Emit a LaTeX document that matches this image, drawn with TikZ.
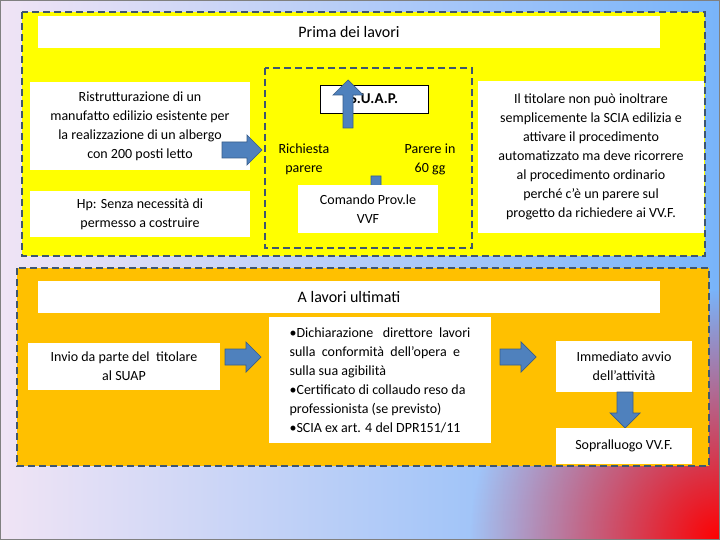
\documentclass[tikz,border=0pt]{standalone}
\usepackage{fontspec}
\setmainfont{Carlito}
\usetikzlibrary{fadings}
\tikzfading[name=myfade,inner color=transparent!0,outer color=transparent!100]
\definecolor{dashc}{RGB}{62,86,112}
\definecolor{ylw}{RGB}{255,255,0}
\definecolor{org}{RGB}{255,192,0}
\definecolor{arr}{RGB}{79,129,189}
\definecolor{arrd}{RGB}{56,93,138}
\tikzset{
  x=1pt,y=-1pt,
  wbox/.style={fill=white,inner sep=3pt,align=center,font=\fontsize{14}{19}\selectfont},
  dbox/.style={draw=dashc,line width=2.5pt,dash pattern=on 7pt off 4pt},
  blockarrow/.style={fill=arr,draw=arrd,line width=0.7pt}
}
% block arrow pointing along +x of local frame, length #4
\newcommand{\blkarrow}[5]{%
  \draw[blockarrow,shift={(#1,#2)},rotate=#3] (0,-#5) -- (#4-15,-#5) -- (#4-15,-15) -- (#4,0) -- (#4-15,15) -- (#4-15,#5) -- (0,#5) -- cycle;}
\begin{document}
\begin{tikzpicture}
\useasboundingbox (0,0) rectangle (720,540);
\shade[left color={rgb,255:red,240;green,228;blue,245},right color={rgb,255:red,120;green,180;blue,250}] (0,0) rectangle (720,540);
\begin{scope}
\clip (0,0) rectangle (720,540);
\fill[red,path fading=myfade] (720,540) circle (250);
\end{scope}
\draw[gray,line width=1pt] (0.5,0.5) rectangle (719.5,539.5);
% top section
\draw[dbox,fill=ylw] (22,12) rectangle (705,256);
\node[wbox,minimum width=622,minimum height=32,font=\fontsize{16}{19}\selectfont] (t1) at (349,32) {Prima dei lavori};
\node[wbox,minimum width=220,minimum height=88] (r1) at (140,126) {Ristrutturazione di un\\manufatto edilizio esistente per\\la realizzazione di un albergo\\con 200 posti letto};
\node[wbox,minimum width=220,minimum height=45] (hp) at (140,214) {Hp: Senza necessità di\\permesso a costruire};
\blkarrow{222}{150}{0}{40}{8}
\draw[dbox] (265,68) rectangle (472,248);
\node[wbox,draw=black,line width=0.8pt,minimum width=108,minimum height=28,font=\fontsize{15}{18}\selectfont\bfseries] (suap) at (374,99) {S.U.A.P.};
\blkarrow{348}{128}{90}{48}{5}
\blkarrow{376}{176}{-90}{48}{5}
\node[align=center,font=\fontsize{14}{19}\selectfont] (rp) at (304,159) {Richiesta\\parere};
\node[align=center,font=\fontsize{14}{19}\selectfont] (pg) at (430,159) {Parere in\\60 gg};
\node[wbox,minimum width=140,minimum height=47] (cp) at (368,209) {Comando Prov.le\\VVF};
\node[wbox,minimum width=226,minimum height=152] (tit) at (591,157) {Il titolare non può inoltrare\\semplicemente la SCIA edilizia e\\attivare il procedimento\\automatizzato ma deve ricorrere\\al procedimento ordinario\\perché c’è un parere sul\\progetto da richiedere ai VV.F.};
% bottom section
\draw[dbox,fill=org] (17,268) rectangle (709,466);
\node[wbox,minimum width=622,minimum height=32,font=\fontsize{16}{19}\selectfont] (t2) at (349,297) {A lavori ultimati};
\node[wbox,minimum width=192,minimum height=47] (inv) at (124,366) {Invio da parte del\ \ titolare\\al SUAP};
\blkarrow{225}{357}{0}{36}{8}
\node[wbox,minimum width=222,minimum height=126,align=left] (mid) at (380,380) {•Dichiarazione\ \ \ direttore\ \ lavori\\sulla\ \ conformità\ \ dell’opera\ \ e\\sulla sua agibilità\\•Certificato di collaudo reso da\\professionista (se previsto)\\•SCIA ex art. 4 del DPR151/11};
\blkarrow{500}{357}{0}{36}{8}
\node[wbox,minimum width=136,minimum height=51] (imm) at (624,366) {Immediato avvio\\dell’attività};
\blkarrow{625}{392}{-90}{36}{8}
\node[wbox,minimum width=136,minimum height=36] (sop) at (624,446) {Sopralluogo VV.F.};
\end{tikzpicture}
\end{document}
